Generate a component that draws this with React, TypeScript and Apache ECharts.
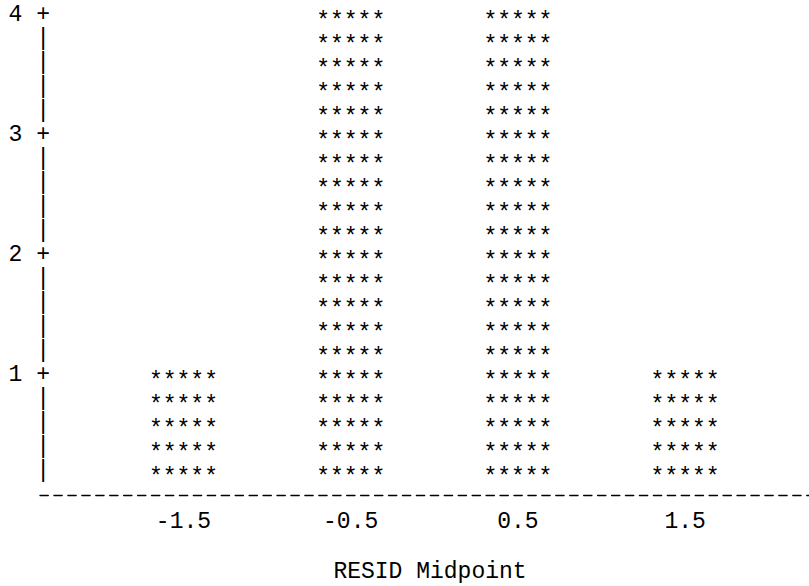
import React, { useEffect, useRef } from "react";
import * as echarts from "echarts";

// ---- data ----
const midpoints = [-1.5, -0.5, 0.5, 1.5];
const midpointLabels = ["-1.5", "-0.5", "0.5", "1.5"];
const frequencies = [1, 4, 4, 1];
const yTickValues = [1, 2, 3, 4];
const rowsPerUnit = 5;
const barSymbol = "*****";
const xAxisTitle = "RESID Midpoint";

const FONT = "'Courier New', 'Liberation Mono', monospace";
const FS = 23;

export default function App() {
  const ref = useRef<HTMLDivElement>(null);

  useEffect(() => {
    if (!ref.current) return;
    const chart = echarts.init(ref.current, null, { renderer: "svg" });
    const step = 1 / rowsPerUnit;

    const renderItem = (params: any, api: any) => {
      const x = api.value(0);
      const v = api.value(1);
      const rows = Math.round(v * rowsPerUnit);
      const children: any[] = [];
      for (let r = 1; r <= rows; r++) {
        const p = api.coord([x, r * step]);
        children.push({
          type: "text",
          x: p[0],
          y: p[1] + 7,
          style: {
            text: barSymbol,
            fontFamily: FONT,
            fontSize: FS,
            fill: "#000",
            align: "center",
            verticalAlign: "middle",
          },
        });
      }
      return { type: "group", children };
    };

    chart.setOption({
      animation: false,
      grid: {
        left: 40,
        right: 0,
        top: 15,
        bottom: 91,
        containLabel: false,
        outerBoundsMode: "none",
      },
      xAxis: {
        type: "value",
        min: -2.358,
        max: 2.241,
        offset: 3,
        axisLine: {
          show: true,
          lineStyle: { color: "#000", width: 1.3, type: [8.3, 5.64] },
        },
        axisTick: { show: false },
        splitLine: { show: false },
        axisLabel: {
          customValues: midpoints,
          formatter: (v: number) => {
            const i = midpoints.findIndex((m) => Math.abs(m - v) < 1e-6);
            return i >= 0 ? midpointLabels[i] : "";
          },
          fontFamily: FONT,
          fontSize: FS,
          color: "#000",
          margin: 12,
        },
        name: xAxisTitle,
        nameLocation: "middle",
        nameGap: 62,
        nameTextStyle: {
          fontFamily: FONT,
          fontSize: FS,
          color: "#000",
          padding: [0, 0, 0, 11],
        },
      },
      yAxis: {
        type: "value",
        min: 0,
        max: 4,
        interval: step,
        axisLine: { show: false },
        axisTick: { show: false },
        splitLine: { show: false },
        axisLabel: {
          fontFamily: FONT,
          fontSize: FS,
          color: "#000",
          margin: -10,
          formatter: (v: number) => {
            if (v < 1e-9) return "";
            const n = Math.round(v);
            if (Math.abs(v - n) < 1e-6 && yTickValues.includes(n)) return `${n} +`;
            return "|";
          },
        },
      },
      series: [
        {
          type: "custom",
          renderItem,
          clip: false,
          data: midpoints.map((m, i) => [m, frequencies[i]]),
        },
      ],
    });

    return () => chart.dispose();
  }, []);

  return (
    <div
      ref={ref}
      style={{ position: "fixed", left: 0, top: 0, width: 809, height: 586, background: "#fff" }}
    />
  );
}
